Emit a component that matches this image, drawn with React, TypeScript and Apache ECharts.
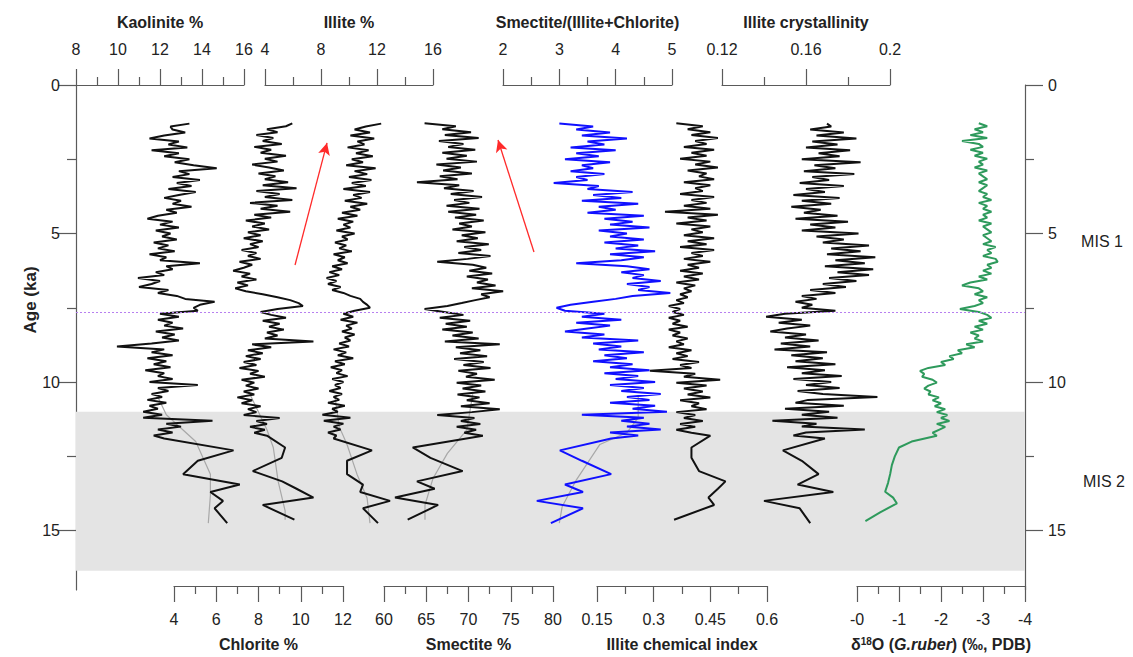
import React, { useEffect, useRef } from "react";
import * as echarts from "echarts";

// ---------- DATA ----------
const AGES: number[] = [
  1.3, 1.4, 1.5, 1.6, 1.7, 1.8, 1.9, 2.0, 2.1, 2.2,
  2.3, 2.4, 2.5, 2.6, 2.7, 2.8, 2.9, 3.0, 3.1, 3.2,
  3.3, 3.4, 3.5, 3.6, 3.7, 3.8, 3.9, 4.0, 4.1, 4.2,
  4.3, 4.4, 4.5, 4.6, 4.7, 4.8, 4.9, 5.0, 5.1, 5.2,
  5.3, 5.4, 5.5, 5.6, 5.7, 5.8, 5.9, 6.0, 6.1, 6.2,
  6.3, 6.4, 6.5, 6.6, 6.7, 6.8, 6.9, 7.0, 7.1, 7.2,
  7.3, 7.4, 7.5, 7.6, 7.7, 7.8, 7.9, 8.0, 8.1, 8.2,
  8.3, 8.4, 8.5, 8.6, 8.7, 8.8, 8.9, 9.0, 9.1, 9.2,
  9.3, 9.4, 9.5, 9.6, 9.7, 9.8, 9.9, 10.0, 10.1, 10.2,
  10.3, 10.4, 10.5, 10.6, 10.7, 10.8, 10.9, 11.0, 11.1, 11.2,
  11.3, 11.4, 11.5, 11.6, 11.7, 11.8, 11.9,
  12.3, 12.65, 13.1, 13.45, 13.7, 14.0, 14.25, 14.75,
];

const KAOLINITE: number[] = [
  13.4, 12.5, 12.6, 13.2, 12.2, 11.5, 12.9, 12.4, 13.3, 11.6,
  12.9, 12.2, 13.4, 12.7, 13.6, 14.7, 12.9, 13.4, 12.6, 13.9,
  12.8, 13.5, 12.4, 13.7, 12.9, 12.2, 13.0, 12.6, 13.5, 12.3,
  12.8, 11.9, 11.4, 12.6, 12.0, 12.9, 11.8, 12.5, 12.1, 12.8,
  11.7, 12.4, 11.9, 12.7, 11.5, 12.3, 12.0, 13.9, 12.3, 12.6,
  11.8, 12.2, 10.95, 12.0, 11.6, 11.0, 12.4, 11.9, 12.8, 13.2,
  14.6, 13.9, 13.6, 13.8, 12.0, 12.9, 11.9, 12.6, 12.2, 13.1,
  11.8, 12.7, 12.1, 12.9, 11.6, 9.95, 12.2, 11.6, 12.6, 11.4,
  12.3, 11.7, 12.5, 11.3, 12.2, 11.9, 12.6, 11.5, 13.8, 11.9,
  12.4, 11.6, 12.1, 11.4, 12.3, 11.5, 11.9, 11.2, 12.1, 11.2,
  14.5, 12.3, 13.0, 11.9, 12.6, 11.7, 12.2,
  15.5, 13.8, 13.1, 15.8, 14.4, 15.0, 14.6, 15.2,
];

const CHLORITE: number[] = [
  9.6, 9.3, 8.4, 8.9, 7.9, 8.7, 8.2, 9.1, 7.8, 8.6,
  8.1, 9.3, 8.3, 8.9, 7.7, 8.5, 9.2, 8.0, 8.8, 8.3,
  9.4, 8.2, 9.8, 7.9, 9.0, 8.3, 9.6, 7.6, 8.9, 8.1,
  9.5, 7.8, 8.6, 7.4, 8.3, 7.7, 8.5, 7.5, 8.1, 7.3,
  8.2, 7.6, 8.0, 7.2, 7.9, 7.5, 8.1, 7.1, 7.7, 7.3,
  6.8, 7.6, 7.2, 7.9, 7.0, 7.5, 6.9, 7.4, 8.2, 8.9,
  9.5, 9.9, 10.1, 8.9, 8.1, 8.6, 9.3, 8.2, 9.0, 8.5,
  9.2, 8.4, 8.9, 8.3, 10.6, 7.7, 8.6, 7.5, 8.2, 7.4,
  8.1, 7.3, 7.9, 7.1, 8.0, 7.6, 8.3, 7.2, 7.8, 7.4,
  8.0, 7.3, 7.8, 7.0, 7.7, 7.2, 8.1, 7.5, 7.9, 7.3,
  9.0, 7.9, 8.4, 7.6, 8.3, 7.8, 8.4,
  9.26, 9.1, 7.73, 9.12, 9.8, 10.6, 8.2, 9.7,
];

const ILLITE: number[] = [
  12.3, 11.2, 10.4, 11.5, 10.1, 11.8, 10.6, 11.1, 9.9, 11.4,
  10.5, 11.7, 10.2, 11.0, 9.8, 11.9, 10.4, 11.3, 10.0, 11.6,
  10.2, 11.2, 9.6, 11.5, 10.3, 10.9, 9.7, 11.3, 10.1, 10.8,
  9.5, 10.6, 9.2, 10.3, 9.6, 10.1, 9.1, 10.4, 9.5, 9.9,
  9.0, 9.8, 9.3, 10.2, 8.9, 9.7, 9.2, 9.9, 8.8, 9.5,
  8.6, 9.3, 8.4, 9.1, 8.5, 9.4, 8.8, 9.6, 10.1, 10.8,
  11.0, 11.3, 11.5, 10.4, 9.6, 10.3, 9.4, 10.6, 9.8, 10.2,
  9.5, 10.4, 9.7, 10.1, 9.3, 10.0, 8.9, 9.8, 9.2, 10.3,
  9.0, 9.7, 8.7, 9.5, 9.1, 9.9, 8.8, 9.6, 9.0, 9.4,
  8.6, 9.5, 8.9, 9.3, 8.5, 9.7, 8.8, 9.2, 8.1, 10.1,
  8.2, 9.6, 8.9, 9.4, 8.5, 9.1, 8.9,
  11.64, 9.86, 9.86, 11.0, 10.8, 12.93, 11.0, 12.07,
];

const SMECTITE: number[] = [
  64.8, 68.5, 66.9, 70.3, 67.2, 71.2, 66.5, 69.4, 67.6, 70.8,
  66.9, 69.8, 67.4, 71.0, 66.2, 69.1, 67.0, 70.4, 66.6, 68.7,
  63.9, 68.9, 67.1, 70.6, 67.9, 71.6, 68.3, 70.1, 67.4, 71.3,
  67.6, 70.9, 68.4, 71.8, 68.9, 70.4, 68.1, 72.0, 69.2, 71.1,
  68.6, 72.4, 69.5, 71.5, 68.8, 72.6, 69.9, 66.3, 70.5, 72.1,
  70.1, 72.8, 69.8, 72.3, 71.0, 73.2, 70.4, 74.1, 71.5, 72.5,
  70.8, 69.2, 67.5, 64.8, 67.1, 69.4, 66.6, 70.2, 67.3, 69.8,
  66.9, 70.5, 68.1, 71.2, 67.2, 73.7, 68.5, 71.4, 69.0, 72.2,
  68.3, 71.8, 69.4, 72.6, 68.8, 71.0, 69.7, 73.1, 68.6, 71.5,
  69.3, 72.0, 68.7, 71.3, 69.8, 72.5, 69.1, 73.7, 70.4, 66.3,
  70.7, 69.1, 71.4, 68.6, 70.9, 69.5, 71.7,
  63.4, 65.5, 69.3, 63.9, 66.0, 61.3, 66.4, 62.8,
];

const S_IC_RATIO: number[] = [
  3.0, 3.6, 3.3, 3.9, 3.4, 4.2, 3.5, 3.8, 3.2, 4.0,
  3.3, 3.7, 3.1, 3.9, 3.4, 3.6, 3.2, 3.8, 3.3, 3.5,
  2.9, 3.7, 3.5, 4.3, 3.6, 4.1, 3.4, 4.4, 3.7, 4.0,
  3.5, 4.5, 3.8, 4.3, 3.9, 4.6, 3.7, 4.2, 3.9, 4.5,
  3.8, 4.4, 4.0, 4.7, 3.9, 4.5, 4.1, 3.3, 4.2, 4.6,
  4.1, 4.5, 4.3, 4.8, 4.2, 4.6, 4.4, 4.97, 4.3, 4.0,
  3.6, 3.2, 2.95, 3.1, 3.8, 3.4, 4.1, 3.3, 3.9, 3.5,
  3.1, 3.8, 3.4, 4.4, 3.6, 4.1, 3.7, 4.5, 3.8, 4.2,
  3.6, 4.3, 3.9, 4.6, 3.8, 4.4, 4.0, 4.7, 3.9, 4.5,
  4.1, 4.8, 4.2, 4.6, 3.9, 4.7, 4.3, 4.91, 3.4, 4.5,
  4.1, 4.6, 4.2, 4.8, 3.9, 4.4, 3.92,
  3.01, 3.4, 3.92, 3.1, 3.42, 2.6, 3.42, 2.85,
];

const ILLITE_CHEM_INDEX: number[] = [
  0.36, 0.43, 0.39, 0.45, 0.40, 0.47, 0.41, 0.44, 0.38, 0.46,
  0.40, 0.44, 0.37, 0.45, 0.41, 0.47, 0.39, 0.44, 0.42, 0.46,
  0.38, 0.45, 0.41, 0.43, 0.37, 0.46, 0.40, 0.44, 0.38, 0.45,
  0.33, 0.47, 0.39, 0.44, 0.36, 0.45, 0.40, 0.43, 0.38, 0.46,
  0.39, 0.44, 0.37, 0.46, 0.40, 0.43, 0.38, 0.45, 0.39, 0.42,
  0.37, 0.43, 0.38, 0.42, 0.36, 0.41, 0.38, 0.40, 0.37, 0.39,
  0.36, 0.38, 0.34, 0.37, 0.35, 0.38, 0.34, 0.37, 0.35, 0.39,
  0.34, 0.37, 0.35, 0.39, 0.36, 0.38, 0.34, 0.40, 0.36, 0.39,
  0.35, 0.42, 0.37, 0.40, 0.29, 0.41, 0.38, 0.476, 0.36, 0.44,
  0.38, 0.43, 0.39, 0.45, 0.37, 0.42, 0.40, 0.44, 0.36, 0.41,
  0.38, 0.43, 0.37, 0.41, 0.36, 0.40, 0.45,
  0.40, 0.40, 0.42, 0.49, 0.47, 0.445, 0.46, 0.354,
];

const ILLITE_CRYST: number[] = [
  0.170, 0.172, 0.162, 0.178, 0.165, 0.184, 0.163, 0.175, 0.160, 0.181,
  0.166, 0.176, 0.158, 0.186, 0.164, 0.174, 0.159, 0.183, 0.163, 0.171,
  0.157, 0.178, 0.160, 0.169, 0.154, 0.176, 0.158, 0.172, 0.153, 0.167,
  0.159, 0.175, 0.155, 0.180, 0.162, 0.174, 0.158, 0.185, 0.165, 0.178,
  0.168, 0.190, 0.172, 0.186, 0.170, 0.193, 0.174, 0.188, 0.169, 0.192,
  0.175, 0.190, 0.171, 0.184, 0.168, 0.179, 0.162, 0.174, 0.158, 0.165,
  0.155, 0.163, 0.158, 0.174, 0.150, 0.141, 0.158, 0.147, 0.162, 0.151,
  0.143, 0.160, 0.150, 0.166, 0.148, 0.162, 0.145, 0.170, 0.153, 0.168,
  0.155, 0.174, 0.151, 0.169, 0.158, 0.177, 0.154, 0.172, 0.160, 0.176,
  0.156, 0.168, 0.194, 0.161, 0.155, 0.178, 0.150, 0.171, 0.158, 0.175,
  0.144, 0.165, 0.158, 0.188, 0.160, 0.154, 0.169,
  0.149, 0.158, 0.166, 0.156, 0.173, 0.140, 0.157, 0.162,
];

const D18O_AGES: number[] = [
  ...AGES.slice(0, 107),
  12.1, 12.3, 12.6, 12.9, 13.2, 13.5, 13.8, 14.0, 14.2, 14.5, 14.8,
];
const D18O: number[] = [
  -2.9, -3.1, -2.8, -3.0, -2.7, -3.1, -2.5, -2.9, -3.0, -2.7,
  -3.0, -2.8, -3.1, -2.9, -3.0, -2.8, -3.1, -2.9, -3.0, -3.1,
  -2.9, -3.1, -3.0, -2.9, -3.1, -3.0, -3.2, -2.9, -3.1, -3.0,
  -3.2, -3.0, -3.1, -2.9, -3.2, -3.0, -3.1, -3.2, -3.0, -3.1,
  -3.2, -3.0, -3.3, -3.1, -3.2, -3.0, -3.3, -3.35, -3.1, -3.2,
  -3.0, -3.2, -2.9, -3.1, -2.7, -2.5, -2.9, -3.0, -2.8, -3.1,
  -2.9, -3.0, -2.8, -2.45, -2.9, -3.1, -3.2, -2.9, -3.1, -2.8,
  -3.0, -2.7, -2.9, -2.8, -3.0, -2.6, -2.8, -2.4, -2.5, -2.2,
  -2.3, -2.0, -2.1, -1.7, -1.5, -1.6, -1.55, -1.8, -1.9, -1.7,
  -1.6, -1.75, -1.7, -1.95, -1.8, -2.0, -1.85, -2.1, -1.9, -2.15,
  -2.0, -2.2, -1.9, -2.1, -1.95, -1.8, -1.9,
  -1.3, -1.0, -0.9, -0.83, -0.79, -0.74, -0.67, -0.86, -0.95, -0.55, -0.2,
];

// thin grey smoothed curves (visible in the glacial interval)
const KAO_SMOOTH_AGES = [10.5, 11.1, 12.0, 13.1, 13.8, 14.75];
const KAO_SMOOTH = [11.9, 12.3, 13.7, 14.4, 14.4, 14.3];
const CHL_SMOOTH_AGES = [10.5, 11.7, 12.3, 13.45, 14.45, 14.75];
const CHL_SMOOTH = [7.6, 8.4, 8.7, 8.93, 9.26, 9.26];
const ILL_SMOOTH_AGES = [10.5, 11.5, 12.1, 13.1, 13.9, 14.75];
const ILL_SMOOTH = [9.0, 9.3, 9.86, 10.57, 11.29, 11.5];
const SME_SMOOTH_AGES = [10.5, 11.7, 12.5, 13.35, 14.25, 14.75];
const SME_SMOOTH = [70.5, 69.8, 67.5, 65.8, 64.85, 64.85];
const RAT_SMOOTH_AGES = [10.5, 11.2, 11.7, 12.1, 13.3, 14.2, 14.75];
const RAT_SMOOTH = [4.4, 4.4, 4.2, 3.72, 3.3, 3.05, 3.0];

const Y_TICKS = [0, 5, 10, 15];
const Y_MINOR_TICKS = [2.5, 7.5, 12.5];
const GLACIAL_BAND = [11.0, 16.35];
const TERMINATION_AGE = 7.64;

// ---------- LAYOUT ----------
const FONT = "'Liberation Sans', Arial, Helvetica, sans-serif";
const AXIS_COLOR = "#5a5a5a";
const TEXT_COLOR = "#222";
const FS = 16;
const TOP = 85;
const HEIGHT = 505;
const Y_MAX = 17;
const PLOT_LEFT = 76;
const PLOT_RIGHT = 1025;

type Panel = {
  left: number;
  right: number;
  min: number;
  max: number;
  interval: number;
  pos: "top" | "bottom";
  name: any;
  inverse?: boolean;
  fmt?: (v: number) => string;
};

const PANELS: Panel[] = [
  { left: 76, right: 244, min: 8, max: 16, interval: 2, pos: "top", name: "Kaolinite %" },
  { left: 265, right: 433, min: 4, max: 16, interval: 4, pos: "top", name: "Illite %" },
  { left: 503, right: 672, min: 2, max: 5, interval: 1, pos: "top", name: "Smectite/(Illite+Chlorite)" },
  { left: 722, right: 890, min: 0.12, max: 0.2, interval: 0.04, pos: "top", name: "Illite crystallinity",
    fmt: (v) => String(Math.round(v * 100) / 100) },
  { left: 174, right: 343, min: 4, max: 12, interval: 2, pos: "bottom", name: "Chlorite %" },
  { left: 384, right: 553, min: 60, max: 80, interval: 5, pos: "bottom", name: "Smectite %" },
  { left: 597, right: 767, min: 0.15, max: 0.6, interval: 0.15, pos: "bottom", name: "Illite chemical index",
    fmt: (v) => String(Math.round(v * 100) / 100) },
  { left: 857, right: 1025, min: -4, max: 0, interval: 1, pos: "bottom", inverse: true,
    name: "δ{sup|18}O ({it|G.ruber}) (‰, PDB)",
    fmt: (v) => (Math.abs(v) < 1e-9 ? "-0" : String(v)) },
];

function pairs(vals: number[], ages: number[]) {
  return vals.map((v, i) => [v, ages[i]]);
}

export default function App() {
  const ref = useRef<HTMLDivElement>(null);

  useEffect(() => {
    if (!ref.current) return;
    const chart = echarts.init(ref.current, null, { renderer: "svg" });

    const grids: any[] = [
      { left: PLOT_LEFT, top: TOP, width: PLOT_RIGHT - PLOT_LEFT, height: HEIGHT },
    ];
    const xAxes: any[] = [
      { gridIndex: 0, type: "value", min: 0, max: 1, show: false },
    ];
    const baseY = (position: "left" | "right") => ({
      gridIndex: 0,
      type: "value",
      inverse: true,
      min: 0,
      max: Y_MAX,
      position,
      axisLine: { show: true, onZero: false, lineStyle: { color: AXIS_COLOR, width: 1.2 } },
      axisTick: { show: true, length: 18, customValues: Y_TICKS, lineStyle: { color: AXIS_COLOR, width: 1.2 } },
      axisLabel: {
        show: true,
        customValues: Y_TICKS,
        margin: position === "left" ? 16 : 23,
        fontSize: FS,
        fontFamily: FONT,
        color: TEXT_COLOR,
      },
      splitLine: { show: false },
    });
    const minorY = (position: "left" | "right") => ({
      gridIndex: 0,
      type: "value",
      inverse: true,
      min: 0,
      max: Y_MAX,
      position,
      axisLine: { show: false, onZero: false },
      axisTick: { show: true, length: 9, customValues: Y_MINOR_TICKS, lineStyle: { color: AXIS_COLOR, width: 1.2 } },
      axisLabel: { show: false },
      splitLine: { show: false },
    });
    const yAxes: any[] = [baseY("left"), baseY("right"), minorY("left"), minorY("right")];

    PANELS.forEach((p, i) => {
      const g = i + 1;
      grids.push({ left: p.left, top: TOP, width: p.right - p.left, height: HEIGHT });
      const top = p.pos === "top";
      xAxes.push({
        gridIndex: g,
        type: "value",
        position: p.pos,
        min: p.min,
        max: p.max,
        interval: p.interval,
        inverse: !!p.inverse,
        name: p.name,
        nameLocation: "middle",
        nameGap: top ? 55 : 50,
        nameTextStyle: {
          fontFamily: FONT,
          fontSize: FS,
          fontWeight: "bold",
          color: TEXT_COLOR,
          rich: {
            sup: { fontSize: 10, fontWeight: "bold", verticalAlign: "top", padding: [0, 0, 6, 0], fontFamily: FONT, color: TEXT_COLOR },
            it: { fontSize: FS, fontWeight: "bold", fontStyle: "italic", fontFamily: FONT, color: TEXT_COLOR },
          },
        },
        axisLine: { show: true, onZero: false, lineStyle: { color: AXIS_COLOR, width: 1.2 } },
        axisTick: { show: true, inside: false, length: 16, lineStyle: { color: AXIS_COLOR, width: 1.2 } },
        minorTick: { show: true, splitNumber: 2, length: 8, lineStyle: { color: AXIS_COLOR, width: 1.2 } },
        axisLabel: {
          margin: top ? 28 : 25,
          fontSize: FS,
          fontFamily: FONT,
          color: TEXT_COLOR,
          formatter: p.fmt ? p.fmt : (v: number) => String(v),
        },
        splitLine: { show: false },
        minorSplitLine: { show: false },
      });
      yAxes.push({
        gridIndex: g,
        type: "value",
        inverse: true,
        min: 0,
        max: Y_MAX,
        show: false,
      });
    });

    const line = (xi: number, data: any[], color: string, width: number, z: number) => ({
      type: "line",
      xAxisIndex: xi,
      yAxisIndex: xi + 3,
      data,
      showSymbol: false,
      symbol: "none",
      clip: false,
      lineStyle: { color, width },
      z,
      silent: true,
    });

    const BLACK = "#111111";
    const GREY = "#a8a8a8";
    const series: any[] = [
      {
        type: "line",
        xAxisIndex: 0,
        yAxisIndex: 0,
        data: [[0, 0]],
        showSymbol: false,
        symbol: "none",
        lineStyle: { opacity: 0 },
        z: 1,
        silent: true,
        markArea: {
          silent: true,
          itemStyle: { color: "#e4e4e4" },
          data: [[{ coord: [0, GLACIAL_BAND[0]] }, { coord: [1, GLACIAL_BAND[1]] }]],
        },
        markLine: {
          silent: true,
          symbol: ["none", "none"],
          label: { show: false },
          animation: false,
          data: [
            [
              { coord: [0, TERMINATION_AGE], lineStyle: { color: "#b77ff0", type: [2, 2], width: 1.2 } },
              { coord: [1, TERMINATION_AGE] },
            ],
            [
              { coord: [0.2308, 6.06], symbol: "none", lineStyle: { color: "#ff2a2a", type: "solid", width: 1.3 } },
              { coord: [0.2645, 1.95], symbol: "arrow", symbolSize: [9, 12] },
            ],
            [
              { coord: [0.4826, 5.62], symbol: "none", lineStyle: { color: "#ff2a2a", type: "solid", width: 1.3 } },
              { coord: [0.4447, 1.85], symbol: "arrow", symbolSize: [9, 12] },
            ],
          ],
        },
      },
      // grey smoothed curves
      line(1, pairs(KAO_SMOOTH, KAO_SMOOTH_AGES), GREY, 1.2, 2),
      line(5, pairs(CHL_SMOOTH, CHL_SMOOTH_AGES), GREY, 1.2, 2),
      line(2, pairs(ILL_SMOOTH, ILL_SMOOTH_AGES), GREY, 1.2, 2),
      line(6, pairs(SME_SMOOTH, SME_SMOOTH_AGES), GREY, 1.2, 2),
      line(3, pairs(RAT_SMOOTH, RAT_SMOOTH_AGES), GREY, 1.2, 2),
      // main records
      line(1, pairs(KAOLINITE, AGES), BLACK, 2, 3),
      line(5, pairs(CHLORITE, AGES), BLACK, 2, 3),
      line(2, pairs(ILLITE, AGES), BLACK, 2, 3),
      line(6, pairs(SMECTITE, AGES), BLACK, 2, 3),
      line(3, pairs(S_IC_RATIO, AGES), "#1010ff", 2, 3),
      line(7, pairs(ILLITE_CHEM_INDEX, AGES), BLACK, 2, 3),
      line(4, pairs(ILLITE_CRYST, AGES), BLACK, 2, 3),
      line(8, pairs(D18O, D18O_AGES), "#2e9a5c", 2, 3),
    ];

    const option: any = {
      animation: false,
      backgroundColor: "#ffffff",
      grid: grids,
      xAxis: xAxes,
      yAxis: yAxes,
      series,
      graphic: [
        {
          type: "text",
          x: 30,
          y: 300,
          rotation: Math.PI / 2,
          style: {
            text: "Age (ka)",
            fill: TEXT_COLOR,
            font: `bold 17px ${FONT}`,
            align: "center",
            verticalAlign: "middle",
          },
        },
        {
          type: "text",
          x: 1102,
          y: 241,
          style: { text: "MIS 1", fill: TEXT_COLOR, font: `${FS}px ${FONT}`, align: "center", verticalAlign: "middle" },
        },
        {
          type: "text",
          x: 1104,
          y: 481,
          style: { text: "MIS 2", fill: TEXT_COLOR, font: `${FS}px ${FONT}`, align: "center", verticalAlign: "middle" },
        },
      ],
    };

    chart.setOption(option);
    return () => chart.dispose();
  }, []);

  return (
    <div
      ref={ref}
      style={{ position: "fixed", left: 0, top: 0, width: 1133, height: 657, background: "#fff" }}
    />
  );
}
